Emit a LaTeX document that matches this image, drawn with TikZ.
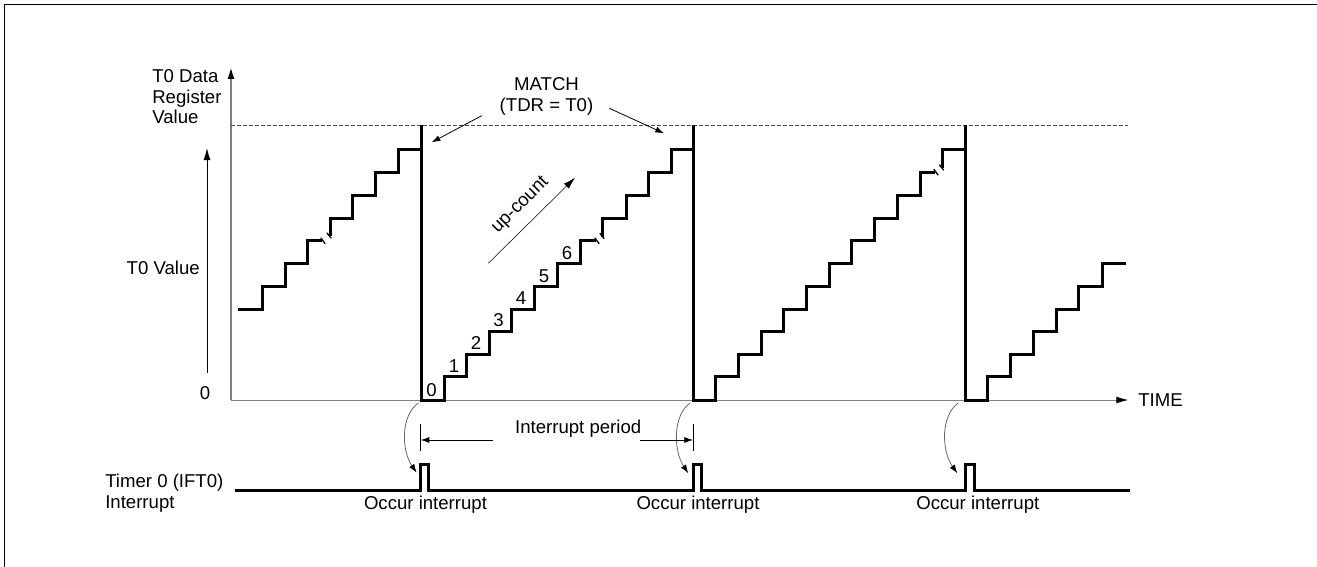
\documentclass[tikz,border=0pt]{standalone}
\usepackage{fontspec}
\setmainfont{Liberation Sans}
\usetikzlibrary{arrows.meta}
\tikzset{
  stair/.style={line width=2.25pt, line join=miter},
  axis/.style={draw=gray, -{Latex[length=9pt,width=5.25pt,color=black]}},
  thinarrow/.style={line width=0.6pt, -{Latex[length=6.5pt,width=4.5pt]}},
  curvearrow/.style={draw=black!60, line width=0.6pt, -{Latex[length=6.5pt,width=4.5pt,color=black]}},
  breakmark/.style={line width=1pt, line cap=round},
  lbl/.style={inner sep=0pt, font=\fontsize{13.95}{15.4}\selectfont},
}
\begin{document}
\begin{tikzpicture}[x=0.75pt,y=-0.75pt]
\useasboundingbox (0,0) rectangle (1317,567);
\coordinate (frBL) at (4.3,567);
\coordinate (frTL) at (4.3,5);
\coordinate (frTR) at (1317,5);
\draw[line width=0.75pt] (frBL) -- (frTL) -- (frTR);

% axes
\coordinate (O) at (231,400);
\coordinate (Ytop) at (231,67);
\coordinate (Xend) at (1128.3,400);
\draw[axis, line width=1.5pt] (O) -- (Ytop);
\draw[axis, line width=0.75pt] (O) -- (Xend);
\coordinate (dashL) at (231,125.3);
\coordinate (dashR) at (1128.3,125.3);
\draw[black!70, line width=0.75pt, dash pattern=on 3pt off 1.5pt] (dashL) -- (dashR);

% left value arrow
\coordinate (tvB) at (207,373);
\coordinate (tvT) at (207,148);
\draw[line width=0.75pt, -{Latex[length=9pt,width=5.25pt]}] (tvB) -- (tvT);

% labels
\node[lbl, anchor=west, align=left] (ylab) at (152,97) {T0 Data\\Register\\Value};
\node[lbl, anchor=east] (tv) at (200,268) {T0 Value};
\node[lbl] (zero) at (205,393) {0};
\node[lbl, anchor=west] (time) at (1138,400) {TIME};

% staircase segment 1
\draw[stair] (238.3,309.3) -| (262.3,286) -| (285,263.3) -| (307.7,240.7) -- (322,240.7);
\draw[breakmark] (321,238) -- (325,243.5);
\draw[breakmark] (327,233) -- (331,238);
\draw[stair] (330,236) |- (352.7,218.3) |- (375.3,195) |- (398.7,172.3) |- (421.3,149.3);
% drop 1 and segment 2
\draw[stair] (421.3,125.3) -- (421.3,400) -| (444.3,376.7) -| (466.7,354) -| (489,331) -| (511,309.3) -| (534.3,286) -| (557.3,263.3) -| (580.3,240.7) -- (596,240.7);
\draw[breakmark] (595,238) -- (599,243.5);
\draw[breakmark] (600,233.5) -- (604,238.5);
\draw[stair] (602.7,236.7) |- (626,218.3) |- (648.3,195) |- (671,172.3) |- (693.3,149.3);
% drop 2 and segment 3
\draw[stair] (693.3,125.3) -- (693.3,400) -| (715.7,376.7) -| (738.3,354) -| (761,331) -| (783.3,309.3) -| (806.7,286) -| (829.3,263.3) -| (851.7,240.7) -| (874.3,218.3) -| (897.3,195) -| (920,172.3) -- (935,172.3);
\draw[breakmark] (934,169.5) -- (938,175);
\draw[breakmark] (939.5,165) -- (943.5,170);
\draw[stair] (942.3,168) |- (965.7,149.3);
% drop 3 and segment 4
\draw[stair] (965.7,125.3) -- (965.7,400) -| (987.7,376.7) -| (1010.3,354) -| (1033,331) -| (1056.3,309.3) -| (1078.3,286) -| (1102,263.3) -- (1125.7,263.3);

% step numbers
\foreach \n/\x/\y in {0/431.5/390,1/454/366.5,2/476/343.5,3/498.5/320.5,4/521/298,5/544/276,6/567/253}
  \node[lbl] (s\n) at (\x,\y) {\n};

% MATCH
\node[lbl, align=center] (match) at (546.5,96.5) {MATCH\\(TDR = T0)};
\coordinate (mA1) at (481.7,115.7);
\coordinate (mA2) at (431.7,142.3);
\coordinate (mB1) at (609.3,108.3);
\coordinate (mB2) at (664,133.3);
\draw[thinarrow] (mA1) -- (mA2);
\draw[thinarrow] (mB1) -- (mB2);

% up-count
\coordinate (uc1) at (488.3,263.3);
\coordinate (uc2) at (575,177.7);
\draw[line width=0.4pt, -{Latex[length=9pt,width=5.25pt]}] (uc1) -- (uc2);
\node[lbl, rotate=45] (upc) at (520.5,205.5) {up-count};

% interrupt line
\draw[stair] (235,490) -- (420.7,490) -- (420.7,464) -- (428.3,464) -- (428.3,490)
  -- (693.3,490) -- (693.3,464) -- (701.7,464) -- (701.7,490)
  -- (965.7,490) -- (965.7,464) -- (974,464) -- (974,490) -- (1130,490);
\node[lbl, anchor=west, align=left] (tim) at (105,493) {Timer 0 (IFT0)\\Interrupt};
\node[lbl] (oc1) at (425.5,505) {Occur interrupt};
\node[lbl] (oc2) at (698,505) {Occur interrupt};
\node[lbl] (oc3) at (977.8,505) {Occur interrupt};

% curved arrows
\coordinate (c1a) at (418.3,403);
\coordinate (c1b) at (416.7,472.7);
\coordinate (c2a) at (690,403);
\coordinate (c2b) at (688.3,473.3);
\coordinate (c3a) at (958.3,403);
\coordinate (c3b) at (957.3,473.3);
\draw[curvearrow] (c1a) .. controls (401,415) and (401,450) .. (c1b);
\draw[curvearrow] (c2a) .. controls (673,415) and (673,450) .. (c2b);
\draw[curvearrow] (c3a) .. controls (941,415) and (941,450) .. (c3b);

% interrupt period
\coordinate (t1a) at (420.7,424);
\coordinate (t1b) at (420.7,451);
\coordinate (t2a) at (693,424);
\coordinate (t2b) at (693,451);
\draw[line width=0.6pt] (t1a) -- (t1b);
\draw[line width=0.6pt] (t2a) -- (t2b);
\node[lbl] (ip) at (578.2,429) {Interrupt period};
\coordinate (ipL) at (493.3,440);
\coordinate (ipR) at (640,440);
\draw[thinarrow] (ipL) -- (t1a |- ipL);
\draw[thinarrow] (ipR) -- (t2a |- ipR);
\end{tikzpicture}
\end{document}
